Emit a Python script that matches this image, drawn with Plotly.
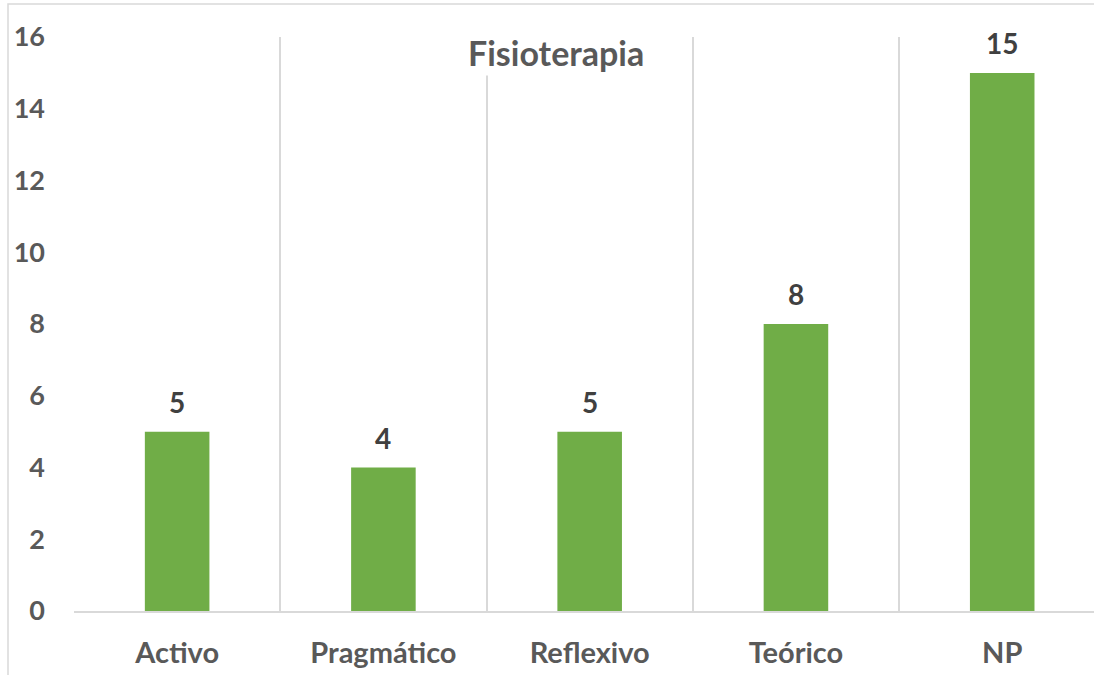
import plotly.graph_objects as go

categories = ["Activo", "Pragmático", "Reflexivo", "Teórico", "NP"]
values = [5, 4, 5, 8, 15]
y_ticks = [0, 2, 4, 6, 8, 10, 12, 14, 16]
title_text = "Fisioterapia"

FONT = "Lato"
fig = go.Figure()
fig.add_trace(go.Bar(
    x=categories, y=values, marker=dict(color="#70AD47", line=dict(width=0)),
    width=0.313, hoverinfo="skip",
))
for c, v in zip(categories, values):
    fig.add_annotation(x=c, y=v, text=f"<b>{v}</b>", showarrow=False,
                       yanchor="bottom", yshift=11,
                       font=dict(family=FONT, size=28, color="#404040"))

fig.add_annotation(xref="paper", yref="paper", x=(556 - 74) / 1020, y=(611 - 52) / 574,
                   text=f"<b>{title_text}</b>", showarrow=False, xanchor="center", yanchor="middle",
                   bgcolor="white", borderpad=2,
                   font=dict(family=FONT, size=34, color="#595959"))

# outer chart border
fig.add_shape(type="rect", xref="paper", yref="paper",
              x0=(8 - 74) / 1020, x1=1.1, y0=-0.2, y1=1 + (37 - 4) / 574,
              line=dict(color="#D9D9D9", width=1.5), fillcolor="rgba(0,0,0,0)", layer="below")

fig.update_layout(
    width=1094, height=675,
    margin=dict(l=74, r=0, t=37, b=64, autoexpand=False),
    paper_bgcolor="white", plot_bgcolor="white",
    showlegend=False,
    xaxis=dict(
        type="category", range=[-0.5, 4.445], tickson="boundaries",
        showgrid=True, gridcolor="#D9D9D9", gridwidth=1.5,
        showline=True, linecolor="#D9D9D9", linewidth=1.5,
        ticks="", ticklabelstandoff=15, automargin=False,
        tickfont=dict(family=FONT, size=29, color="#595959", weight="bold"),
        fixedrange=True,
    ),
    yaxis=dict(
        range=[0, 16], tickvals=y_ticks, showgrid=False, zeroline=False,
        showline=False, ticks="", ticklabelstandoff=28, automargin=False,
        tickfont=dict(family=FONT, size=27, color="#595959", weight="bold"),
        fixedrange=True,
    ),
)

fig.write_html("out.html", config={"displayModeBar": False},
               post_script="document.body.style.margin='0px';document.body.style.overflow='hidden';")
